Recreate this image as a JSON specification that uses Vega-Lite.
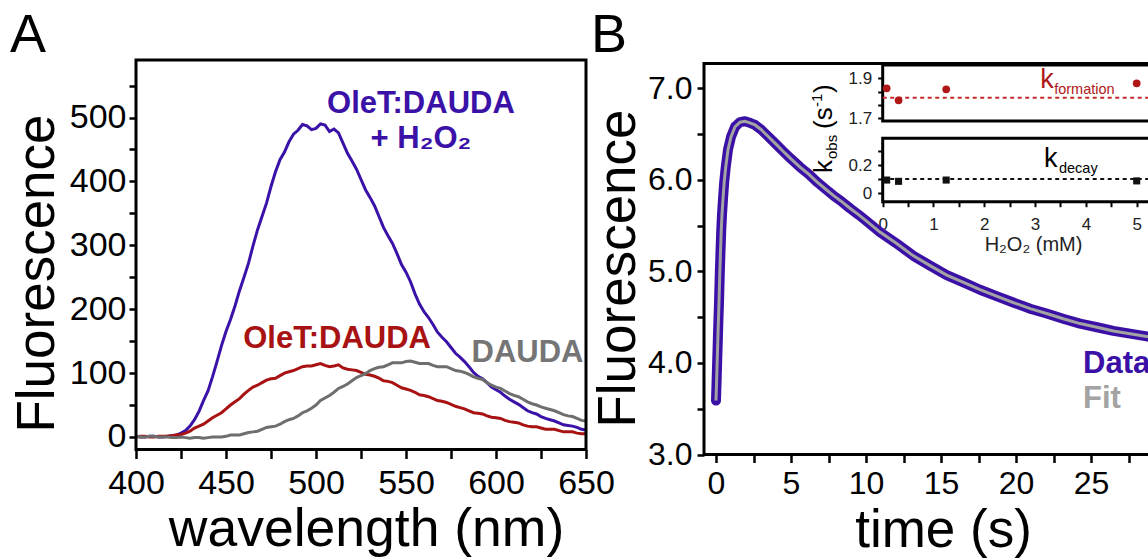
{
  "$schema": "https://vega.github.io/schema/vega-lite/v6.json",
  "width": 1148,
  "height": 560,
  "autosize": {"type": "none"},
  "padding": 0,
  "background": "white",
  "config": {
    "view": {"stroke": null},
    "font": "Liberation Sans",
    "axis": {
      "grid": false, "domain": false,
      "labelFont": "Liberation Sans", "titleFont": "Liberation Sans",
      "labelColor": "black", "titleColor": "black", "tickColor": "black",
      "tickWidth": 2.5, "labelFlush": false, "labelOverlap": false, "labelBound": false,
      "titleFontWeight": "normal", "titleBaseline": "alphabetic", "titleAlign": "center"
    }
  },
  "datasets": {
    "spectra": [
      {"nm": 400, "oletH2O2": 1, "oletDAUDA": 0, "DAUDA": 1},
      {"nm": 402.5, "oletH2O2": 0, "oletDAUDA": 1, "DAUDA": 0},
      {"nm": 405, "oletH2O2": 0, "oletDAUDA": 1, "DAUDA": 0},
      {"nm": 407.5, "oletH2O2": 1, "oletDAUDA": 0, "DAUDA": 1},
      {"nm": 410, "oletH2O2": 1, "oletDAUDA": 0, "DAUDA": 1},
      {"nm": 412.5, "oletH2O2": 0, "oletDAUDA": 1, "DAUDA": 0},
      {"nm": 415, "oletH2O2": 0, "oletDAUDA": 1, "DAUDA": 0},
      {"nm": 417.5, "oletH2O2": 1, "oletDAUDA": 1, "DAUDA": 0},
      {"nm": 420, "oletH2O2": 2, "oletDAUDA": 2, "DAUDA": -1},
      {"nm": 422.5, "oletH2O2": 3, "oletDAUDA": 3, "DAUDA": -1},
      {"nm": 425, "oletH2O2": 6, "oletDAUDA": 4, "DAUDA": 0},
      {"nm": 427.5, "oletH2O2": 10, "oletDAUDA": 6, "DAUDA": -1},
      {"nm": 430, "oletH2O2": 17, "oletDAUDA": 9, "DAUDA": -2},
      {"nm": 432.5, "oletH2O2": 27, "oletDAUDA": 14, "DAUDA": -1},
      {"nm": 435, "oletH2O2": 40, "oletDAUDA": 17, "DAUDA": -1},
      {"nm": 437.5, "oletH2O2": 57, "oletDAUDA": 20, "DAUDA": -2},
      {"nm": 440, "oletH2O2": 72, "oletDAUDA": 25, "DAUDA": -1},
      {"nm": 442.5, "oletH2O2": 94, "oletDAUDA": 30, "DAUDA": 0},
      {"nm": 445, "oletH2O2": 118, "oletDAUDA": 34, "DAUDA": 0},
      {"nm": 447.5, "oletH2O2": 143, "oletDAUDA": 38, "DAUDA": 0},
      {"nm": 450, "oletH2O2": 165, "oletDAUDA": 44, "DAUDA": 1},
      {"nm": 452.5, "oletH2O2": 184, "oletDAUDA": 50, "DAUDA": 3},
      {"nm": 455, "oletH2O2": 205, "oletDAUDA": 55, "DAUDA": 3},
      {"nm": 457.5, "oletH2O2": 229, "oletDAUDA": 60, "DAUDA": 3},
      {"nm": 460, "oletH2O2": 250, "oletDAUDA": 67, "DAUDA": 5},
      {"nm": 462.5, "oletH2O2": 272, "oletDAUDA": 73, "DAUDA": 7},
      {"nm": 465, "oletH2O2": 299, "oletDAUDA": 78, "DAUDA": 8},
      {"nm": 467.5, "oletH2O2": 324, "oletDAUDA": 81, "DAUDA": 9},
      {"nm": 470, "oletH2O2": 345, "oletDAUDA": 85, "DAUDA": 12},
      {"nm": 472.5, "oletH2O2": 366, "oletDAUDA": 89, "DAUDA": 15},
      {"nm": 475, "oletH2O2": 392, "oletDAUDA": 91, "DAUDA": 16},
      {"nm": 477.5, "oletH2O2": 415, "oletDAUDA": 92, "DAUDA": 17},
      {"nm": 480, "oletH2O2": 434, "oletDAUDA": 96, "DAUDA": 20},
      {"nm": 482.5, "oletH2O2": 446, "oletDAUDA": 100, "DAUDA": 24},
      {"nm": 485, "oletH2O2": 462, "oletDAUDA": 102, "DAUDA": 27},
      {"nm": 487.5, "oletH2O2": 474, "oletDAUDA": 104, "DAUDA": 29},
      {"nm": 490, "oletH2O2": 480, "oletDAUDA": 107, "DAUDA": 33},
      {"nm": 492.5, "oletH2O2": 489, "oletDAUDA": 110, "DAUDA": 38},
      {"nm": 495, "oletH2O2": 487, "oletDAUDA": 111, "DAUDA": 41},
      {"nm": 497.5, "oletH2O2": 481, "oletDAUDA": 111, "DAUDA": 45},
      {"nm": 500, "oletH2O2": 483, "oletDAUDA": 113, "DAUDA": 50},
      {"nm": 502.5, "oletH2O2": 490, "oletDAUDA": 115, "DAUDA": 57},
      {"nm": 505, "oletH2O2": 488, "oletDAUDA": 112, "DAUDA": 61},
      {"nm": 507.5, "oletH2O2": 478, "oletDAUDA": 110, "DAUDA": 65},
      {"nm": 510, "oletH2O2": 482, "oletDAUDA": 111, "DAUDA": 70},
      {"nm": 512.5, "oletH2O2": 476, "oletDAUDA": 113, "DAUDA": 76},
      {"nm": 515, "oletH2O2": 460, "oletDAUDA": 108, "DAUDA": 79},
      {"nm": 517.5, "oletH2O2": 444, "oletDAUDA": 106, "DAUDA": 83},
      {"nm": 520, "oletH2O2": 432, "oletDAUDA": 105, "DAUDA": 88},
      {"nm": 522.5, "oletH2O2": 419, "oletDAUDA": 104, "DAUDA": 93},
      {"nm": 525, "oletH2O2": 403, "oletDAUDA": 101, "DAUDA": 96},
      {"nm": 527.5, "oletH2O2": 387, "oletDAUDA": 98, "DAUDA": 99},
      {"nm": 530, "oletH2O2": 375, "oletDAUDA": 97, "DAUDA": 104},
      {"nm": 532.5, "oletH2O2": 362, "oletDAUDA": 95, "DAUDA": 107},
      {"nm": 535, "oletH2O2": 345, "oletDAUDA": 92, "DAUDA": 109},
      {"nm": 537.5, "oletH2O2": 328, "oletDAUDA": 88, "DAUDA": 110},
      {"nm": 540, "oletH2O2": 315, "oletDAUDA": 87, "DAUDA": 113},
      {"nm": 542.5, "oletH2O2": 303, "oletDAUDA": 85, "DAUDA": 116},
      {"nm": 545, "oletH2O2": 287, "oletDAUDA": 81, "DAUDA": 116},
      {"nm": 547.5, "oletH2O2": 270, "oletDAUDA": 77, "DAUDA": 116},
      {"nm": 550, "oletH2O2": 258, "oletDAUDA": 75, "DAUDA": 118},
      {"nm": 552.5, "oletH2O2": 243, "oletDAUDA": 73, "DAUDA": 119},
      {"nm": 555, "oletH2O2": 224, "oletDAUDA": 70, "DAUDA": 117},
      {"nm": 557.5, "oletH2O2": 208, "oletDAUDA": 66, "DAUDA": 115},
      {"nm": 560, "oletH2O2": 196, "oletDAUDA": 65, "DAUDA": 115},
      {"nm": 562.5, "oletH2O2": 187, "oletDAUDA": 63, "DAUDA": 115},
      {"nm": 565, "oletH2O2": 176, "oletDAUDA": 60, "DAUDA": 112},
      {"nm": 567.5, "oletH2O2": 164, "oletDAUDA": 57, "DAUDA": 110},
      {"nm": 570, "oletH2O2": 156, "oletDAUDA": 56, "DAUDA": 110},
      {"nm": 572.5, "oletH2O2": 149, "oletDAUDA": 54, "DAUDA": 110},
      {"nm": 575, "oletH2O2": 140, "oletDAUDA": 51, "DAUDA": 107},
      {"nm": 577.5, "oletH2O2": 131, "oletDAUDA": 48, "DAUDA": 104},
      {"nm": 580, "oletH2O2": 125, "oletDAUDA": 46, "DAUDA": 103},
      {"nm": 582.5, "oletH2O2": 118, "oletDAUDA": 44, "DAUDA": 101},
      {"nm": 585, "oletH2O2": 110, "oletDAUDA": 41, "DAUDA": 98},
      {"nm": 587.5, "oletH2O2": 101, "oletDAUDA": 38, "DAUDA": 94},
      {"nm": 590, "oletH2O2": 95, "oletDAUDA": 37, "DAUDA": 92},
      {"nm": 592.5, "oletH2O2": 91, "oletDAUDA": 36, "DAUDA": 90},
      {"nm": 595, "oletH2O2": 85, "oletDAUDA": 33, "DAUDA": 85},
      {"nm": 597.5, "oletH2O2": 78, "oletDAUDA": 31, "DAUDA": 81},
      {"nm": 600, "oletH2O2": 74, "oletDAUDA": 30, "DAUDA": 78},
      {"nm": 602.5, "oletH2O2": 70, "oletDAUDA": 29, "DAUDA": 76},
      {"nm": 605, "oletH2O2": 64, "oletDAUDA": 26, "DAUDA": 72},
      {"nm": 607.5, "oletH2O2": 59, "oletDAUDA": 24, "DAUDA": 68},
      {"nm": 610, "oletH2O2": 55, "oletDAUDA": 23, "DAUDA": 65},
      {"nm": 612.5, "oletH2O2": 51, "oletDAUDA": 22, "DAUDA": 63},
      {"nm": 615, "oletH2O2": 46, "oletDAUDA": 19, "DAUDA": 59},
      {"nm": 617.5, "oletH2O2": 41, "oletDAUDA": 17, "DAUDA": 55},
      {"nm": 620, "oletH2O2": 38, "oletDAUDA": 16, "DAUDA": 52},
      {"nm": 622.5, "oletH2O2": 36, "oletDAUDA": 16, "DAUDA": 50},
      {"nm": 625, "oletH2O2": 32, "oletDAUDA": 14, "DAUDA": 47},
      {"nm": 627.5, "oletH2O2": 29, "oletDAUDA": 12, "DAUDA": 45},
      {"nm": 630, "oletH2O2": 27, "oletDAUDA": 12, "DAUDA": 43},
      {"nm": 632.5, "oletH2O2": 25, "oletDAUDA": 12, "DAUDA": 41},
      {"nm": 635, "oletH2O2": 22, "oletDAUDA": 10, "DAUDA": 38},
      {"nm": 637.5, "oletH2O2": 19, "oletDAUDA": 8, "DAUDA": 35},
      {"nm": 640, "oletH2O2": 18, "oletDAUDA": 8, "DAUDA": 33},
      {"nm": 642.5, "oletH2O2": 17, "oletDAUDA": 8, "DAUDA": 32},
      {"nm": 645, "oletH2O2": 15, "oletDAUDA": 6, "DAUDA": 29},
      {"nm": 647.5, "oletH2O2": 12, "oletDAUDA": 5, "DAUDA": 26},
      {"nm": 650, "oletH2O2": 11, "oletDAUDA": 5, "DAUDA": 25}
    ],
    "kinetics": [
      {"t": 0, "F": 3.59}, {"t": 0.04, "F": 3.8}, {"t": 0.08, "F": 4.02}, {"t": 0.12, "F": 4.24},
      {"t": 0.16, "F": 4.46}, {"t": 0.2, "F": 4.66}, {"t": 0.25, "F": 4.96}, {"t": 0.3, "F": 5.22},
      {"t": 0.35, "F": 5.45}, {"t": 0.4, "F": 5.62}, {"t": 0.47, "F": 5.8}, {"t": 0.55, "F": 5.98},
      {"t": 0.65, "F": 6.14}, {"t": 0.8, "F": 6.33}, {"t": 1.0, "F": 6.47}, {"t": 1.27, "F": 6.58},
      {"t": 1.6, "F": 6.63}, {"t": 1.93, "F": 6.64}, {"t": 2.3, "F": 6.62}, {"t": 2.6, "F": 6.6},
      {"t": 3.0, "F": 6.55}, {"t": 3.38, "F": 6.49}, {"t": 4.0, "F": 6.39}, {"t": 4.49, "F": 6.31},
      {"t": 5.0, "F": 6.23}, {"t": 5.6, "F": 6.14}, {"t": 6.2, "F": 6.06}, {"t": 6.71, "F": 5.98},
      {"t": 7.3, "F": 5.9}, {"t": 7.82, "F": 5.83}, {"t": 8.4, "F": 5.76}, {"t": 8.93, "F": 5.69},
      {"t": 9.5, "F": 5.62}, {"t": 10.04, "F": 5.55}, {"t": 10.93, "F": 5.43}, {"t": 12.0, "F": 5.31},
      {"t": 13.16, "F": 5.17}, {"t": 14.3, "F": 5.06}, {"t": 15.38, "F": 4.96}, {"t": 16.5, "F": 4.88},
      {"t": 17.6, "F": 4.8}, {"t": 18.7, "F": 4.73}, {"t": 19.82, "F": 4.66}, {"t": 21.0, "F": 4.59},
      {"t": 22.04, "F": 4.54}, {"t": 23.2, "F": 4.48}, {"t": 24.27, "F": 4.43}, {"t": 25.4, "F": 4.39},
      {"t": 26.49, "F": 4.35}, {"t": 27.6, "F": 4.32}, {"t": 28.71, "F": 4.29}, {"t": 29.6, "F": 4.27}
    ],
    "kform": [
      {"mM": 0.078, "k": 1.85}, {"mM": 0.3125, "k": 1.79}, {"mM": 1.25, "k": 1.845}, {"mM": 5, "k": 1.875}
    ],
    "kdecay": [
      {"mM": 0.078, "k": 0.094}, {"mM": 0.3125, "k": 0.085}, {"mM": 1.25, "k": 0.094}, {"mM": 5, "k": 0.088}
    ]
  },
  "resolve": {
    "scale": {"x": "independent", "y": "independent"},
    "axis": {"x": "independent", "y": "independent"}
  },
  "layer": [
    {
      "layer": [
        {"data": {"name": "spectra"},
         "mark": {"type": "line", "color": "#3b12a8", "strokeWidth": 3},
         "encoding": {
          "x": {
            "field": "nm", "type": "quantitative",
            "scale": {"domain": [400, 650], "range": [136, 586], "nice": false, "zero": false},
            "axis": {
              "orient": "bottom", "offset": -110.5,
              "values": [400, 425, 450, 475, 500, 525, 550, 575, 600, 625, 650],
              "format": "d",
              "labelExpr": "datum.value % 50 == 0 ? datum.label : ''",
              "tickSize": 9, "labelFontSize": 34, "labelPadding": 34.5, "labelBaseline": "alphabetic",
              "title": "wavelength (nm)", "titleFontSize": 53.5, "titleX": 366, "titleY": 95.5
            }
          },
          "y": {
            "field": "oletH2O2", "type": "quantitative",
            "scale": {"domain": [-19.6, 590], "range": [449.5, 60], "nice": false, "zero": false},
            "axis": {
              "orient": "left", "offset": -136,
              "values": [0, 50, 100, 150, 200, 250, 300, 350, 400, 450, 500, 550],
              "format": "d",
              "labelExpr": "datum.value % 100 == 0 ? datum.label : ''",
              "tickSize": 7, "labelPadding": 3, "labelFontSize": 34,
              "title": "Fluorescence", "titleFontSize": 53, "titleX": -83, "titleY": 273, "titleAngle": 270
            }
          }
         }},
        {"data": {"name": "spectra"},
         "mark": {"type": "line", "color": "#a81212", "strokeWidth": 3},
         "encoding": {"x": {"field": "nm", "type": "quantitative"}, "y": {"field": "oletDAUDA", "type": "quantitative"}}},
        {"data": {"name": "spectra"},
         "mark": {"type": "line", "color": "#6e6e6e", "strokeWidth": 3},
         "encoding": {"x": {"field": "nm", "type": "quantitative"}, "y": {"field": "DAUDA", "type": "quantitative"}}},
        {"data": {"values": [{"note": "frame A"}]},
         "mark": {"type": "rect", "filled": false, "stroke": "black", "strokeWidth": 3},
         "encoding": {"x": {"datum": 400}, "x2": {"datum": 650}, "y": {"datum": -19.6}, "y2": {"datum": 590}}},
        {"data": {"values": [{"note": "A"}]},
         "mark": {"type": "text", "fontSize": 54, "align": "left", "baseline": "alphabetic", "color": "black"},
         "encoding": {"x": {"datum": 330}, "y": {"datum": 602.6}, "text": {"field": "note"}}},
        {"data": {"values": [{"note": "OleT:DAUDA"}]},
         "mark": {"type": "text", "fontSize": 31, "fontWeight": "bold", "align": "center", "baseline": "alphabetic", "color": "#3b12a8"},
         "encoding": {"x": {"datum": 558.3}, "y": {"datum": 507.1}, "text": {"field": "note"}}},
        {"data": {"values": [{"note": "+ H₂O₂"}]},
         "mark": {"type": "text", "fontSize": 31, "fontWeight": "bold", "align": "center", "baseline": "alphabetic", "color": "#3b12a8"},
         "encoding": {"x": {"datum": 558.3}, "y": {"datum": 452.3}, "text": {"field": "note"}}},
        {"data": {"values": [{"note": "OleT:DAUDA"}]},
         "mark": {"type": "text", "fontSize": 31, "fontWeight": "bold", "align": "center", "baseline": "alphabetic", "color": "#a81212"},
         "encoding": {"x": {"datum": 511.7}, "y": {"datum": 139.3}, "text": {"field": "note"}}},
        {"data": {"values": [{"note": "DAUDA"}]},
         "mark": {"type": "text", "fontSize": 31, "fontWeight": "bold", "align": "center", "baseline": "alphabetic", "color": "#757575"},
         "encoding": {"x": {"datum": 617.5}, "y": {"datum": 117.9}, "text": {"field": "note"}}}
      ]
    },
    {
      "layer": [
        {"data": {"name": "kinetics"},
         "mark": {"type": "line", "color": "#3a10a6", "strokeWidth": 10, "strokeCap": "round", "strokeJoin": "round"},
         "encoding": {
          "x": {
            "field": "t", "type": "quantitative",
            "scale": {"domain": [-0.8, 28.8], "range": [704, 1148], "nice": false, "zero": false},
            "axis": {
              "orient": "bottom", "offset": -105.5,
              "values": [0, 2.5, 5, 7.5, 10, 12.5, 15, 17.5, 20, 22.5, 25, 27.5],
              "format": ".0f",
              "labelExpr": "datum.value % 5 == 0 ? datum.label : ''",
              "tickSize": 8, "labelFontSize": 32, "labelPadding": 30.5, "labelBaseline": "alphabetic",
              "title": "time (s)", "titleFontSize": 53, "titleX": 943, "titleY": 91.5
            }
          },
          "y": {
            "field": "F", "type": "quantitative",
            "scale": {"domain": [3.0, 7.27], "range": [454.5, 63.6], "nice": false, "zero": false},
            "axis": {
              "orient": "left", "offset": -704,
              "values": [3, 3.5, 4, 4.5, 5, 5.5, 6, 6.5, 7],
              "format": ".1f",
              "labelExpr": "datum.value % 1 == 0 ? datum.label : ''",
              "tickSize": 7, "labelPadding": 5, "labelFontSize": 32,
              "title": "Fluorescence", "titleFontSize": 53, "titleX": -70, "titleY": 268, "titleAngle": 270
            }
          }
         }},
        {"data": {"name": "kinetics"},
         "mark": {"type": "line", "color": "#a3a3a3", "strokeWidth": 3},
         "encoding": {"x": {"field": "t", "type": "quantitative"}, "y": {"field": "F", "type": "quantitative"}}},
        {"data": {"values": [{"note": "frame B"}]},
         "mark": {"type": "rect", "filled": false, "stroke": "black", "strokeWidth": 3},
         "encoding": {"x": {"datum": -0.8}, "x2": {"datum": 31}, "y": {"datum": 3.0}, "y2": {"datum": 7.27}}},
        {"data": {"values": [{"note": "B"}]},
         "mark": {"type": "text", "fontSize": 54, "align": "left", "baseline": "alphabetic", "color": "black"},
         "encoding": {"x": {"datum": -8.33}, "y": {"datum": 7.397}, "text": {"field": "note"}}},
        {"data": {"values": [{"note": "Data"}]},
         "mark": {"type": "text", "fontSize": 31, "fontWeight": "bold", "align": "left", "baseline": "alphabetic", "color": "#3a10a6"},
         "encoding": {"x": {"datum": 24.47}, "y": {"datum": 3.885}, "text": {"field": "note"}}},
        {"data": {"values": [{"note": "Fit"}]},
         "mark": {"type": "text", "fontSize": 31, "fontWeight": "bold", "align": "left", "baseline": "alphabetic", "color": "#a3a3a3"},
         "encoding": {"x": {"datum": 24.47}, "y": {"datum": 3.503}, "text": {"field": "note"}}},
        {"data": {"values": [{"note": "k"}]},
         "mark": {"type": "text", "fontSize": 26, "angle": 270, "align": "left", "baseline": "alphabetic", "color": "black"},
         "encoding": {"x": {"datum": 7.733}, "y": {"datum": 6.075}, "text": {"field": "note"}}},
        {"data": {"values": [{"note": "obs"}]},
         "mark": {"type": "text", "fontSize": 15, "angle": 270, "align": "left", "baseline": "alphabetic", "color": "black", "dx": 14, "dy": 5},
         "encoding": {"x": {"datum": 7.733}, "y": {"datum": 6.075}, "text": {"field": "note"}}},
        {"data": {"values": [{"note": "(s"}]},
         "mark": {"type": "text", "fontSize": 26, "angle": 270, "align": "left", "baseline": "alphabetic", "color": "black", "dx": 44},
         "encoding": {"x": {"datum": 7.733}, "y": {"datum": 6.075}, "text": {"field": "note"}}},
        {"data": {"values": [{"note": "-1"}]},
         "mark": {"type": "text", "fontSize": 15, "angle": 270, "align": "left", "baseline": "alphabetic", "color": "black", "dx": 66, "dy": -10},
         "encoding": {"x": {"datum": 7.733}, "y": {"datum": 6.075}, "text": {"field": "note"}}},
        {"data": {"values": [{"note": ")"}]},
         "mark": {"type": "text", "fontSize": 26, "angle": 270, "align": "left", "baseline": "alphabetic", "color": "black", "dx": 80},
         "encoding": {"x": {"datum": 7.733}, "y": {"datum": 6.075}, "text": {"field": "note"}}}
      ]
    },
    {
      "layer": [
        {"data": {"values": [{"note": "inset top"}]},
         "mark": {"type": "rect", "fill": "white", "stroke": "black", "strokeWidth": 3},
         "encoding": {
          "x": {"datum": 0, "type": "quantitative",
                "scale": {"domain": [0, 5.4], "range": [882.7, 1157], "nice": false, "zero": false},
                "axis": null},
          "x2": {"datum": 5.6},
          "y": {"datum": 1.687, "type": "quantitative",
                "scale": {"domain": [1.687, 1.966], "range": [121, 65], "nice": false, "zero": false},
                "axis": {
                  "orient": "left", "offset": -882.7,
                  "values": [1.7, 1.7667, 1.8333, 1.9],
                  "format": ".1f",
                  "labelExpr": "(datum.value == 1.7 || datum.value == 1.9) ? datum.label : ''",
                  "tickSize": 5, "tickWidth": 2, "labelPadding": 6, "labelFontSize": 17, "labelColor": "#222222",
                  "title": null
                }},
          "y2": {"datum": 1.966}
         }},
        {"data": {"values": [{"note": "mean k formation"}]},
         "mark": {"type": "rule", "color": "#c42a2a", "strokeWidth": 2, "strokeDash": [4, 3.5]},
         "encoding": {"x": {"datum": 0}, "x2": {"datum": 5.4}, "y": {"datum": 1.803}}},
        {"data": {"name": "kform"},
         "mark": {"type": "circle", "size": 60, "color": "#b01818", "opacity": 1},
         "encoding": {"x": {"field": "mM", "type": "quantitative"}, "y": {"field": "k", "type": "quantitative"}}},
        {"data": {"values": [{"note": "k"}]},
         "mark": {"type": "text", "fontSize": 27, "align": "left", "baseline": "alphabetic", "color": "#b01818"},
         "encoding": {"x": {"datum": 3.1}, "y": {"datum": 1.85}, "text": {"field": "note"}}},
        {"data": {"values": [{"note": "formation"}]},
         "mark": {"type": "text", "fontSize": 14.5, "align": "left", "baseline": "alphabetic", "color": "#b01818", "dx": 14, "dy": 6},
         "encoding": {"x": {"datum": 3.1}, "y": {"datum": 1.85}, "text": {"field": "note"}}}
      ]
    },
    {
      "layer": [
        {"data": {"values": [{"note": "inset bottom"}]},
         "mark": {"type": "rect", "fill": "white", "stroke": "black", "strokeWidth": 3},
         "encoding": {
          "x": {"datum": 0, "type": "quantitative",
                "scale": {"domain": [0, 5.4], "range": [882.7, 1157], "nice": false, "zero": false},
                "axis": {
                  "orient": "bottom", "offset": -358.3,
                  "values": [0, 0.5, 1, 1.5, 2, 2.5, 3, 3.5, 4, 4.5, 5],
                  "format": ".0f",
                  "labelExpr": "datum.value % 1 == 0 ? datum.label : ''",
                  "tickSize": 5, "tickWidth": 2, "labelFontSize": 17, "labelPadding": 23, "labelBaseline": "alphabetic", "labelColor": "#222222",
                  "title": "H₂O₂ (mM)", "titleFontSize": 20, "titleColor": "#222222", "titleX": 1033, "titleY": 49
                }},
          "x2": {"datum": 5.6},
          "y": {"datum": -0.059, "type": "quantitative",
                "scale": {"domain": [-0.059, 0.389], "range": [201.7, 138.3], "nice": false, "zero": false},
                "axis": {
                  "orient": "left", "offset": -882.7,
                  "values": [0, 0.1, 0.2, 0.3],
                  "labelExpr": "datum.value == 0 ? '0' : (datum.value == 0.2 ? '0.2' : '')",
                  "tickSize": 5, "tickWidth": 2, "labelPadding": 6, "labelFontSize": 17, "labelColor": "#222222",
                  "title": null
                }},
          "y2": {"datum": 0.389}
         }},
        {"data": {"values": [{"note": "mean k decay"}]},
         "mark": {"type": "rule", "color": "#111111", "strokeWidth": 2, "strokeDash": [4, 3.5]},
         "encoding": {"x": {"datum": 0}, "x2": {"datum": 5.4}, "y": {"datum": 0.101}}},
        {"data": {"name": "kdecay"},
         "mark": {"type": "square", "size": 50, "color": "#111111", "opacity": 1},
         "encoding": {"x": {"field": "mM", "type": "quantitative"}, "y": {"field": "k", "type": "quantitative"}}},
        {"data": {"values": [{"note": "k"}]},
         "mark": {"type": "text", "fontSize": 27, "align": "left", "baseline": "alphabetic", "color": "black"},
         "encoding": {"x": {"datum": 3.175}, "y": {"datum": 0.188}, "text": {"field": "note"}}},
        {"data": {"values": [{"note": "decay"}]},
         "mark": {"type": "text", "fontSize": 14.5, "align": "left", "baseline": "alphabetic", "color": "black", "dx": 15, "dy": 6},
         "encoding": {"x": {"datum": 3.175}, "y": {"datum": 0.188}, "text": {"field": "note"}}}
      ]
    }
  ]
}
